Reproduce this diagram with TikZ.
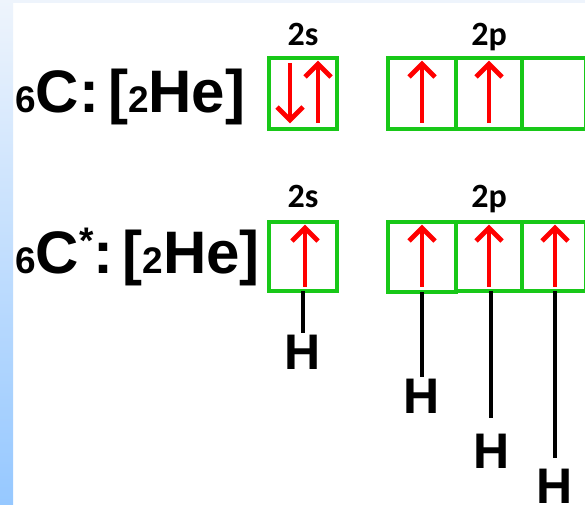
\documentclass[tikz,border=0pt]{standalone}
\usepackage{fontspec}
\setmainfont{Liberation Sans}
\newfontfamily\calfont{Carlito}
\definecolor{boxgreen}{RGB}{24,200,24}
\definecolor{spinred}{RGB}{255,0,0}
\definecolor{stripblue}{RGB}{150,200,255}
\definecolor{striptop}{RGB}{238,244,252}
\newcommand\bigf{\fontsize{60}{60}\selectfont\bfseries}
\newcommand\smallf{\fontsize{37}{37}\selectfont\bfseries}
\newcommand\subx[1]{{\smallf #1}}
\begin{document}
\begin{tikzpicture}[x=1pt,y=-1pt,
  cell/.style={draw=boxgreen, line width=4.5pt, minimum width=68pt, minimum height=71pt, inner sep=0pt, outer sep=0pt, anchor=north west},
  spin/.style={draw=spinred, line width=4.8pt},
  spinup/.pic={\draw[spin] (0,0) -- (0,60); \draw[spin, line join=miter] (-13,14) -- (0,1) -- (13,14);},
  spindown/.pic={\draw[spin] (0,0) -- (0,-58); \draw[spin, line join=miter] (-13,-14) -- (0,-1) -- (13,-14);},
  lab/.style={anchor=base west, inner sep=0pt, font=\bigf},
  orb/.style={anchor=base, inner sep=0pt, font=\calfont\fontsize{34}{34}\selectfont\bfseries},
  hatom/.style={inner sep=0pt, text height=36pt, text depth=0pt, font=\fontsize{50}{50}\selectfont\bfseries},
  bond/.style={draw=black, line width=4.5pt}
]
\useasboundingbox (0,0) rectangle (585,504);
\fill[white] (0,0) rectangle (585,504);
\shade[top color=striptop, bottom color=stripblue] (0,0) rectangle (13,504);
\fill[striptop] (13,0) rectangle (585,3);

% row 1
\node[lab] (c1) at (15,112) {\subx{6}C:\hspace{9pt}[\subx{2}He]};
\node[orb] (l1s) at (303,45) {2s};
\node[orb] (l1p) at (489,45) {2p};
\node[cell] (s1) at (269,58) {};
\node[cell, minimum width=68pt] (p1) at (388,58) {};
\node[cell, minimum width=66pt] (p2) at (456,58) {};
\node[cell, minimum width=64pt] (p3) at (522,58) {};
\pic at (290,121) {spindown};
\pic at (318,63) {spinup};
\pic at (422,63) {spinup};
\pic at (489,63) {spinup};

% row 2
\node[lab] (c2) at (15,273) {\subx{6}C\raisebox{20pt}{\subx{*}}:\hspace{9pt}[\subx{2}He]};
\node[orb] (l2s) at (303,207) {2s};
\node[orb] (l2p) at (489,207) {2p};
\node[cell, minimum height=69pt] (s2) at (269,222) {};
\node[cell, minimum width=68pt, minimum height=70pt] (q1) at (388,222) {};
\node[cell, minimum width=66pt, minimum height=69pt] (q2) at (456,222) {};
\node[cell, minimum width=64pt, minimum height=69pt] (q3) at (522,222) {};
\pic at (305,227) {spinup};
\pic at (422,227) {spinup};
\pic at (489,227) {spinup};
\pic at (555,227) {spinup};

% hydrogens
\node[hatom] (h1) at (303,351.5) {H};
\node[hatom] (h2) at (422,395) {H};
\node[hatom] (h3) at (492,450) {H};
\node[hatom] (h4) at (555,485.5) {H};
\draw[bond] (s2.south -| h1.north) -- (h1.north);
\draw[bond] (q1.south -| h2.north) -- (h2.north);
\draw[bond, shorten >=14pt] ([xshift=-1pt]q2.south -| h3.north) -- ([xshift=-1pt]h3.north);
\draw[bond, shorten >=9pt] (q3.south -| h4.north) -- (h4.north);
\end{tikzpicture}
\end{document}
